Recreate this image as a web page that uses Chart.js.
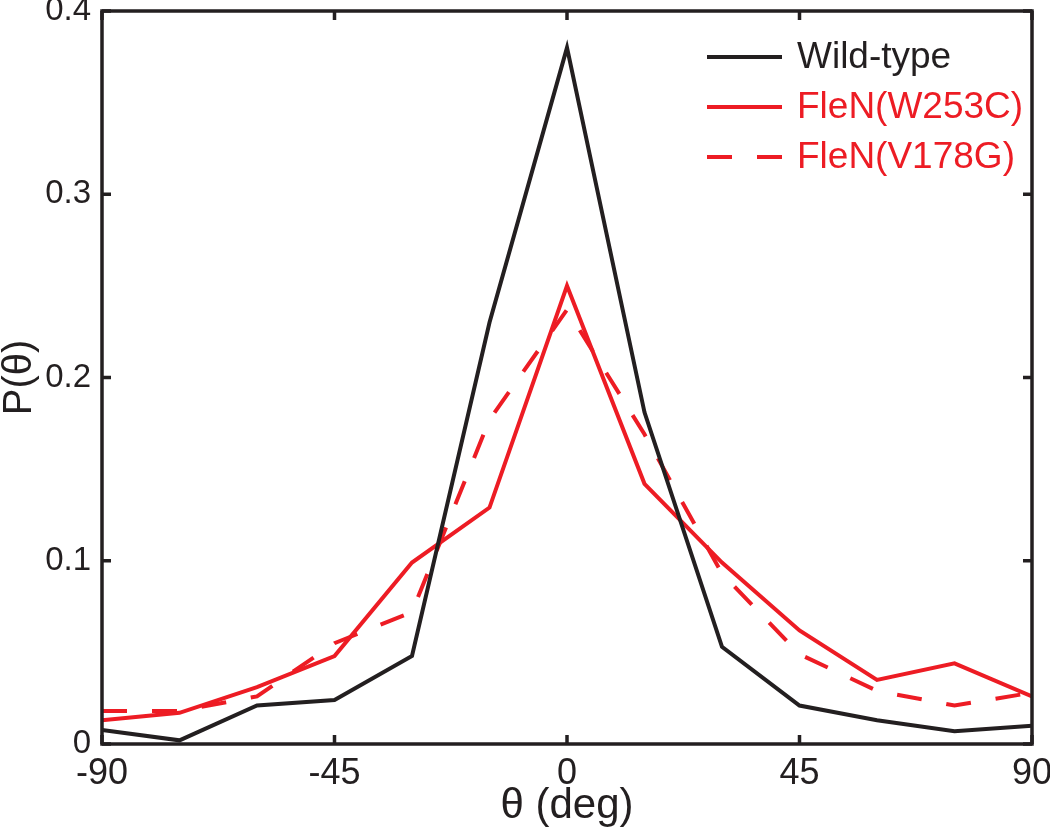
<!DOCTYPE html>
<html>
<head>
<meta charset="utf-8">
<script src="https://cdn.jsdelivr.net/npm/chart.js@4"></script>
<style>
  html, body { margin: 0; padding: 0; background: #fff; }
  canvas { display: block; }
</style>
</head>
<body>
<canvas id="pdfChart" width="1050" height="832"></canvas>
<script>
// angle bins (deg) and P(theta) for each strain
const angles = [-90, -75, -60, -45, -30, -15, 0, 15, 30, 45, 60, 75, 90];
const wildType = [0.0076, 0.002, 0.021, 0.024, 0.048, 0.230, 0.380, 0.181, 0.053, 0.021, 0.013, 0.007, 0.010];
const w253c = [0.013, 0.017, 0.031, 0.048, 0.099, 0.129, 0.250, 0.142, 0.099, 0.062, 0.035, 0.044, 0.026];
const v178g = [0.018, 0.018, 0.026, 0.055, 0.072, 0.177, 0.237, 0.169, 0.093, 0.049, 0.029, 0.021, 0.028];
const seriesNames = ['Wild-type', 'FleN(W253C)', 'FleN(V178G)'];
const xTicks = [-90, -45, 0, 45, 90];
const yTicks = [0, 0.1, 0.2, 0.3, 0.4];

const BLACK = '#231f20';
const RED = '#ed1c24';
const SANS = "'Liberation Sans', Arial, Helvetica, sans-serif";
const NARROW = "'Liberation Sans Narrow', 'Liberation Sans', Arial, sans-serif";

const toPoints = (vals) => angles.map((a, i) => ({ x: a, y: vals[i] }));

// box around the plot with inward ticks on all four sides
const framePlugin = {
    id: 'frame',
    afterDatasetsDraw(chart) {
        const { ctx, chartArea: a, scales } = chart;
        const len = 9;
        ctx.save();
        ctx.strokeStyle = BLACK;
        ctx.lineWidth = 3.5;
        ctx.beginPath();
        xTicks.forEach((v) => {
            const px = scales.x.getPixelForValue(v);
            ctx.moveTo(px, a.bottom); ctx.lineTo(px, a.bottom - len);
            ctx.moveTo(px, a.top); ctx.lineTo(px, a.top + len);
        });
        yTicks.forEach((v) => {
            const py = scales.y.getPixelForValue(v);
            ctx.moveTo(a.left, py); ctx.lineTo(a.left + len, py);
            ctx.moveTo(a.right, py); ctx.lineTo(a.right - len, py);
        });
        ctx.stroke();
        ctx.strokeRect(a.left, a.top, a.right - a.left, a.bottom - a.top);
        ctx.restore();
    },
};

// legend in the top right corner, styled from the datasets
const legendPlugin = {
    id: 'cornerLegend',
    afterDraw(chart) {
        const { ctx } = chart;
        const x0 = 707, x1 = 782, textX = 797, y0 = 57, step = 50;
        ctx.save();
        ctx.font = '37px ' + SANS;
        ctx.textBaseline = 'middle';
        chart.data.datasets.forEach((ds, i) => {
            const y = y0 + i * step;
            ctx.strokeStyle = ds.borderColor;
            ctx.lineWidth = 4;
            ctx.setLineDash(ds.borderDash || []);
            ctx.beginPath();
            ctx.moveTo(x0, y);
            ctx.lineTo(x1, y);
            ctx.stroke();
            ctx.fillStyle = ds.borderColor;
            ctx.fillText(ds.label, textX, y + 1);
        });
        ctx.restore();
    },
};

new Chart(document.getElementById('pdfChart'), {
    type: 'line',
    data: {
        datasets: [
            {
                label: seriesNames[0],
                data: toPoints(wildType),
                borderColor: BLACK,
                borderWidth: 4,
                pointRadius: 0,
                tension: 0,
            },
            {
                label: seriesNames[1],
                data: toPoints(w253c),
                borderColor: RED,
                borderWidth: 4,
                pointRadius: 0,
                tension: 0,
            },
            {
                label: seriesNames[2],
                data: toPoints(v178g),
                borderColor: RED,
                borderWidth: 4,
                borderDash: [25, 25],
                pointRadius: 0,
                tension: 0,
            },
        ],
    },
    options: {
        responsive: false,
        animation: false,
        devicePixelRatio: 1,
        layout: { padding: { top: 11, right: 18, left: 0, bottom: 0 } },
        plugins: {
            legend: { display: false },
            tooltip: { enabled: false },
        },
        scales: {
            x: {
                type: 'linear',
                min: -90,
                max: 90,
                afterBuildTicks: (scale) => { scale.ticks = xTicks.map((v) => ({ value: v })); },
                afterFit: (scale) => { scale.height = 88; scale.paddingLeft = 0; scale.paddingRight = 0; },
                grid: { display: false, drawTicks: false },
                border: { display: false },
                ticks: {
                    color: BLACK,
                    padding: 8,
                    maxRotation: 0,
                    font: { family: NARROW, size: 36 },
                },
                title: {
                    display: true,
                    text: 'θ (deg)',
                    color: BLACK,
                    padding: { top: 0, bottom: 0 },
                    font: { family: NARROW, size: 42 },
                },
            },
            y: {
                type: 'linear',
                min: 0,
                max: 0.4,
                afterBuildTicks: (scale) => { scale.ticks = yTicks.map((v) => ({ value: v })); },
                afterFit: (scale) => { scale.width = 102; scale.paddingTop = 0; scale.paddingBottom = 0; },
                grid: { display: false, drawTicks: false },
                border: { display: false },
                ticks: {
                    color: BLACK,
                    padding: 11,
                    font: { family: SANS, size: 33 },
                },
                title: {
                    display: true,
                    text: 'P(θ)',
                    color: BLACK,
                    padding: { top: 0, bottom: 0 },
                    font: { family: SANS, size: 40, lineHeight: 1 },
                },
            },
        },
    },
    plugins: [framePlugin, legendPlugin],
});
</script>
</body>
</html>
